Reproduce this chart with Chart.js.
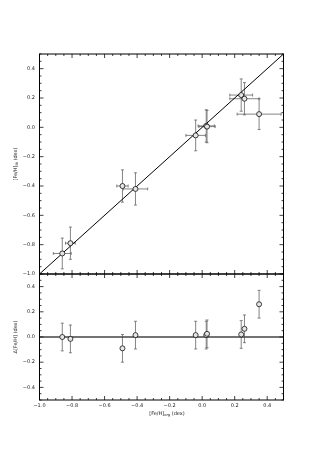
<!DOCTYPE html>
<html><head><meta charset="utf-8">
<script src="https://cdn.jsdelivr.net/npm/chart.js@4"></script>
<style>html,body{margin:0;padding:0;background:#fff;}#wrap{position:relative;width:315px;height:450px;}canvas{position:absolute;left:0;top:0;}</style>
</head><body><div id="wrap"><canvas id="c1" width="315" height="450"></canvas><canvas id="c2" width="315" height="450"></canvas></div>
<script>
// ---- data ----
const xOrg   = [-0.86, -0.81, -0.49, -0.41, -0.04, 0.025, 0.03, 0.24, 0.26, 0.35];
const xErr   = [0.055, 0.03, 0.035, 0.075, 0.06, 0.05, 0.05, 0.07, 0.09, 0.135];
const yLit   = [-0.86, -0.79, -0.40, -0.42, -0.055, 0.01, 0.005, 0.22, 0.195, 0.09];
const yErr   = [0.105, 0.11, 0.11, 0.11, 0.105, 0.11, 0.11, 0.11, 0.11, 0.105];
const dFeH   = [0.00, -0.015, -0.09, 0.015, 0.015, 0.015, 0.025, 0.02, 0.065, 0.26];
const dErr   = [0.11, 0.11, 0.11, 0.11, 0.11, 0.11, 0.11, 0.11, 0.11, 0.11];
const xTicks       = [-1.0, -0.8, -0.6, -0.4, -0.2, 0.0, 0.2, 0.4];
const yTicksTop    = [-1.0, -0.8, -0.6, -0.4, -0.2, 0.0, 0.2, 0.4];
const yTicksBottom = [-0.4, -0.2, 0.0, 0.2, 0.4];
const xRange = [-1.0, 0.5], yRangeTop = [-1.0, 0.5], yRangeBottom = [-0.5, 0.5];
const identityLine = [[-1.0, -1.0], [0.5, 0.5]];
const zeroLine = [[-1.0, 0.0], [0.5, 0.0]];

// ---- layout ----
const L = 39.5, R = 283.5, T1 = 54, B1 = 274, B2 = 400, W = 315, H = 450;
const FONT = 'DejaVu Sans';
const fmt = v => (Math.abs(v) < 1e-9 ? '0.0' : (v < 0 ? '\u2212' : '') + Math.abs(v).toFixed(1));

function frameTicks(chart) {
  const ctx = chart.ctx, a = chart.chartArea;
  const xs = chart.scales.x, ys = chart.scales.y;
  ctx.save();
  ctx.strokeStyle = '#111'; ctx.lineWidth = 0.8;
  const isMajor = v => Math.abs(v / 0.2 - Math.round(v / 0.2)) < 1e-6;
  for (let k = Math.round(xs.min / 0.05); k <= Math.round(xs.max / 0.05); k++) {
    const v = k * 0.05, p = xs.getPixelForValue(v), len = isMajor(v) ? 4 : 2;
    ctx.beginPath();
    ctx.moveTo(p, a.bottom); ctx.lineTo(p, a.bottom - len);
    ctx.moveTo(p, a.top); ctx.lineTo(p, a.top + len);
    ctx.stroke();
  }
  for (let k = Math.round(ys.min / 0.05); k <= Math.round(ys.max / 0.05); k++) {
    const v = k * 0.05, p = ys.getPixelForValue(v), len = isMajor(v) ? 4 : 2;
    ctx.beginPath();
    ctx.moveTo(a.left, p); ctx.lineTo(a.left + len, p);
    ctx.moveTo(a.right, p); ctx.lineTo(a.right - len, p);
    ctx.stroke();
  }
  ctx.strokeStyle = '#000'; ctx.lineWidth = 1;
  ctx.strokeRect(a.left, a.top, a.right - a.left, a.bottom - a.top);
  ctx.restore();
}

function drawRich(ctx, parts, cx, cy, rot) {
  ctx.save();
  ctx.translate(cx, cy); ctx.rotate(rot);
  ctx.fillStyle = '#222'; ctx.textBaseline = 'middle'; ctx.textAlign = 'left';
  let w = 0;
  parts.forEach(p => { ctx.font = (p.sub ? 3.6 : 5) + 'px "' + FONT + '"'; p.w = ctx.measureText(p.t).width; w += p.w; });
  let x = -w / 2;
  parts.forEach(p => { ctx.font = (p.sub ? 3.6 : 5) + 'px "' + FONT + '"'; ctx.fillText(p.t, x, p.sub ? 1.4 : 0); x += p.w; });
  ctx.restore();
}

function errorBars(xv, yv, xe, ye) {
  return {
    id: 'err',
    beforeDatasetsDraw(chart) {
      const ctx = chart.ctx, xs = chart.scales.x, ys = chart.scales.y, c = 1.5;
      ctx.save();
      ctx.strokeStyle = '#666'; ctx.lineWidth = 0.8;
      for (let i = 0; i < xv.length; i++) {
        const px = xs.getPixelForValue(xv[i]), py = ys.getPixelForValue(yv[i]);
        const y0 = ys.getPixelForValue(yv[i] - ye[i]), y1 = ys.getPixelForValue(yv[i] + ye[i]);
        ctx.beginPath();
        ctx.moveTo(px, y0); ctx.lineTo(px, y1);
        ctx.moveTo(px - c, y0); ctx.lineTo(px + c, y0);
        ctx.moveTo(px - c, y1); ctx.lineTo(px + c, y1);
        if (xe) {
          const x0 = xs.getPixelForValue(xv[i] - xe[i]), x1 = xs.getPixelForValue(xv[i] + xe[i]);
          ctx.moveTo(x0, py); ctx.lineTo(x1, py);
          ctx.moveTo(x0, py - c); ctx.lineTo(x0, py + c);
          ctx.moveTo(x1, py - c); ctx.lineTo(x1, py + c);
        }
        ctx.stroke();
      }
      ctx.restore();
    }
  };
}

const tickFont = { family: FONT, size: 5 };
const markerStyle = { pointRadius: 2.5, pointBorderWidth: 0.8, pointBorderColor: '#111', pointBackgroundColor: '#e6e6e6', showLine: false };

function yAxis(range, ticks) {
  return {
    type: 'linear', position: 'left', min: range[0], max: range[1],
    afterFit: s => { s.width = L; },
    afterBuildTicks: s => { s.ticks = ticks.map(v => ({ value: v })); },
    ticks: { callback: v => fmt(v), padding: 4.5, color: '#222', font: tickFont, autoSkip: false },
    grid: { display: false, drawTicks: false }, border: { display: false }
  };
}

new Chart(document.getElementById('c1'), {
  type: 'scatter',
  data: { datasets: [
    Object.assign({ data: xOrg.map((x, i) => ({ x, y: yLit[i] })) }, markerStyle),
    { type: 'line', data: identityLine.map(p => ({ x: p[0], y: p[1] })), borderColor: '#000', borderWidth: 1, pointRadius: 0 }
  ] },
  options: {
    responsive: false, animation: false, devicePixelRatio: 1,
    layout: { padding: { top: T1, bottom: H - B1, left: 0, right: W - R } },
    plugins: { legend: { display: false }, tooltip: { enabled: false } },
    scales: { x: { type: 'linear', min: xRange[0], max: xRange[1], display: false }, y: yAxis(yRangeTop, yTicksTop) }
  },
  plugins: [errorBars(xOrg, yLit, xErr, yErr), { id: 'frame', afterDraw(c) {
    frameTicks(c);
    drawRich(c.ctx, [{ t: '[Fe/H]' }, { t: 'lit', sub: true }, { t: ' (dex)' }], 16, (T1 + B1) / 2, -Math.PI / 2);
  } }]
});

new Chart(document.getElementById('c2'), {
  type: 'scatter',
  data: { datasets: [
    Object.assign({ data: xOrg.map((x, i) => ({ x, y: dFeH[i] })) }, markerStyle),
    { type: 'line', data: zeroLine.map(p => ({ x: p[0], y: p[1] })), borderColor: '#444', borderWidth: 1.3, pointRadius: 0 }
  ] },
  options: {
    responsive: false, animation: false, devicePixelRatio: 1,
    layout: { padding: { top: B1, bottom: 0, left: 0, right: W - R } },
    plugins: { legend: { display: false }, tooltip: { enabled: false } },
    scales: {
      x: { type: 'linear', position: 'bottom', min: xRange[0], max: xRange[1],
        afterFit: s => { s.height = H - B2; },
        afterBuildTicks: s => { s.ticks = xTicks.map(v => ({ value: v })); },
        ticks: { callback: v => fmt(v), padding: 2.5, color: '#222', font: tickFont, autoSkip: false, maxRotation: 0 },
        grid: { display: false, drawTicks: false }, border: { display: false } },
      y: yAxis(yRangeBottom, yTicksBottom)
    }
  },
  plugins: [errorBars(xOrg, dFeH, null, dErr), { id: 'frame', afterDraw(c) {
    frameTicks(c);
    drawRich(c.ctx, [{ t: '\u0394[Fe/H] (dex)' }], 16, (B1 + B2) / 2, -Math.PI / 2);
    drawRich(c.ctx, [{ t: '[Fe/H]' }, { t: 'org', sub: true }, { t: ' (dex)' }], 167, 414, 0);
  } }]
});
</script></body></html>
